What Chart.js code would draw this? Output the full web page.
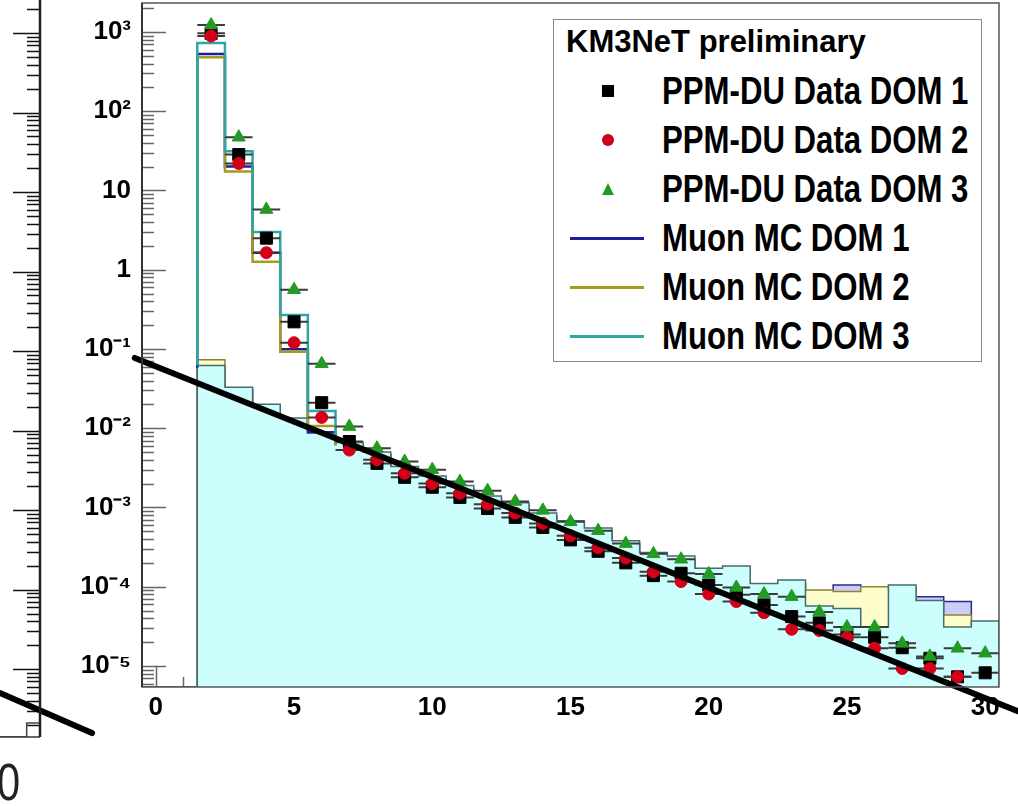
<!DOCTYPE html>
<html>
<head>
<meta charset="utf-8">
<script src="https://cdn.jsdelivr.net/npm/chart.js@4.4.1/dist/chart.umd.min.js"></script>
<style>
body{margin:0;background:#fff;}
#wrap{position:relative;width:1018px;height:806px;overflow:hidden;background:#fff;}
#main,#frag{position:absolute;left:0;top:0;}
#legend{position:absolute;left:553px;top:19px;width:427px;height:341px;border:1.5px solid #888;background:#fff;}
#legend div{position:absolute;}
.lg-head{font:bold 31px "Liberation Sans",Arial,sans-serif;left:12px;top:4px;white-space:nowrap;}
.lg-text{font:bold 38px "Liberation Sans",Arial,sans-serif;left:108px;white-space:nowrap;line-height:44px;transform:scaleX(0.82);transform-origin:0 50%;}
#fragLabel{position:absolute;left:-3px;top:756px;font:52px "Liberation Sans",sans-serif;line-height:1;color:#222;transform:scaleX(0.8);transform-origin:0 50%;}
</style>
</head>
<body>
<div id="wrap">
<canvas id="main" width="1018" height="806"></canvas>
<canvas id="frag" width="100" height="745"></canvas>
<div id="legend"></div>
<div id="fragLabel">0</div>
</div>
<script>
// bin centres 0..30, each bin 1 wide
const BINS = [0,1,2,3,4,5,6,7,8,9,10,11,12,13,14,15,16,17,18,19,20,21,22,23,24,25,26,27,28,29,30];
const BIN_HALF = 0.5;

// PPM-DU data, per DOM
const DATA_DOM1 = [null,null,960,28.4,2.5,0.22,0.021,0.0068,0.0036,0.0024,0.0018,0.00134,0.00097,0.00075,0.00056,0.00039,0.00028,0.00020,0.000138,0.000148,0.000105,7.9e-5,5.9e-5,4.2e-5,3.5e-5,2.5e-5,2.3e-5,1.7e-5,1.25e-5,7.3e-6,8.2e-6];
const DATA_DOM2 = [null,null,890,21.9,1.64,0.12,0.0137,0.0053,0.0040,0.0027,0.0020,0.00151,0.0011,0.00085,0.00063,0.00044,0.00031,0.00023,0.000155,0.000116,8.1e-5,6.5e-5,4.7e-5,2.9e-5,2.8e-5,2.3e-5,1.67e-5,9.3e-6,9.3e-6,7.3e-6,null];
const DATA_DOM3 = [null,null,1225,47,5.75,0.56,0.065,0.0105,0.0056,0.0038,0.0030,0.00212,0.00163,0.00119,0.00092,0.00066,0.00051,0.00035,0.00026,0.000222,0.000145,9.8e-5,8.1e-5,7.5e-5,4.8e-5,3.1e-5,3.1e-5,1.93e-5,1.32e-5,1.67e-5,1.45e-5];

// muon MC, filled part (0 = empty bin)
const FILL_DOM1 = [0,0,0.058,0.031,0.019,0.0125,0.0082,0.0062,0.0046,0.0031,0.0023,0.0017,0.0013,0.00105,0.00078,0.00063,0.00050,0.00035,0.00025,0.00022,0.00016,0.00017,0.0001,0.00011,8.0e-5,1.05e-4,9.0e-5,9.5e-5,7.5e-5,6.5e-5,3.4e-5];
const FILL_DOM2 = [0,0,0.073,0.030,0.018,0.012,0.0080,0.0060,0.0045,0.0030,0.0023,0.0017,0.0013,0.00104,0.00077,0.00062,0.00050,0.00034,0.00025,0.00022,0.000155,0.000165,0.0001,0.00011,9.1e-5,8.7e-5,1.0e-4,9.5e-5,6.0e-5,4.4e-5,3.3e-5];
const FILL_DOM3 = [0,0,0.062,0.033,0.020,0.0135,0.0088,0.0066,0.0050,0.0033,0.0025,0.0019,0.0014,0.00115,0.00085,0.00068,0.00055,0.00038,0.00027,0.000244,0.000171,0.000183,0.00011,0.000122,5.7e-5,5.3e-5,3.1e-5,0.000105,6.7e-5,3.1e-5,3.7e-5];

// muon MC totals in the first bins
const TOT_BINS = [2,3,4,5,6];
const TOT_DOM1 = [528,20,1.64,0.099,0.0089];
const TOT_DOM2 = [480,17.4,1.26,0.092,0.0107];
const TOT_DOM3 = [727,31.3,3.0,0.268,0.0165];

// straight fit line (two ends)
const FIT_X = [-0.76,32];
const FIT_Y = [0.077,2.07e-6];

const X_TICKS = [0,5,10,15,20,25,30];
const Y_TICKS = [1e-5,1e-4,1e-3,1e-2,1e-1,1,10,100,1000];
const Y_TICK_LABELS = ['10\u207B\u2075','10\u207B\u2074','10\u207B\u00B3','10\u207B\u00B2','10\u207B\u00B9','1','10','10\u00B2','10\u00B3'];
const Y_MIN = 5.43e-6, Y_MAX = 2320;

const DATA_LABELS = ['PPM-DU Data DOM 1','PPM-DU Data DOM 2','PPM-DU Data DOM 3'];
const MC_LABELS = ['Muon MC DOM 1','Muon MC DOM 2','Muon MC DOM 3'];
const LEGEND_HEADER = 'KM3NeT preliminary';

// left panel piece (other plot, cut off)
const FRAG_BIN_LO = [29.0,30.0];
const FRAG_VALS = [0,2.1e-6];
const FRAG_FIT_X = [29.0,32.45];
const FRAG_FIT_Y = [5.0e-6,1.57e-6];
const FRAG_Y_MIN = 1.4e-6, FRAG_Y_MAX = 2600;

const FONT_N = '"Liberation Sans",Arial,sans-serif';
const C_DATA = ['#000000','#d3001a','#229b22'];
const C_LINE = ['#1b1f9c','#a59c1e','#2fa6a6'];
const C_FILL = ['#ccccfa','#fefdcc','#ccfefe'];
const C_EDGE = ['#2a2a8a','#8a8433','#466c6c'];

function clampY(v, lo){ return v > 0 ? v : lo; }

function histPoints(vals){
    let pts = [{x: BINS[0]-BIN_HALF, y: clampY(vals[0], Y_MIN)}];
    BINS.forEach((b,i) => pts.push({x: b-BIN_HALF, y: clampY(vals[i], Y_MIN)}));
    let last = BINS.length-1;
    pts.push({x: BINS[last]+BIN_HALF, y: clampY(vals[last], Y_MIN)});
    pts.push({x: BINS[last]+BIN_HALF, y: Y_MIN});
    return pts;
}

function totPoints(tot, fill){
    let first = BINS.indexOf(TOT_BINS[0]);
    let next = BINS.indexOf(TOT_BINS[TOT_BINS.length-1]) + 1;
    let pts = [{x: TOT_BINS[0]-BIN_HALF, y: fill[first]}];
    TOT_BINS.forEach((b,i) => pts.push({x: b-BIN_HALF, y: tot[i]}));
    pts.push({x: BINS[next]-BIN_HALF, y: tot[tot.length-1]});
    pts.push({x: BINS[next]-BIN_HALF, y: fill[next]});
    return pts;
}

function markerPoints(vals){
    return BINS.map((b,i) => ({x: b, y: vals[i]})).filter(p => p.y != null);
}

function errPoints(vals){
    let pts = [];
    BINS.forEach((b,i) => {
        if(vals[i] == null) return;
        pts.push({x: b-BIN_HALF, y: vals[i]}, {x: b+BIN_HALF, y: vals[i]}, {x: b, y: null});
    });
    return pts;
}

// ROOT style ticks (inside the frame) and the frame
const rootFrame = {
    id: 'rootFrame',
    beforeDatasetsDraw(chart, args, o){
        const ctx = chart.ctx, a = chart.chartArea, y = chart.scales.y, x = chart.scales.x;
        ctx.save();
        ctx.strokeStyle = o.tickColor;
        ctx.lineWidth = 1.5;
        ctx.beginPath();
        for(let d=-7; d<=4; d++){
            for(let m=1; m<=9; m++){
                let v = m*Math.pow(10,d);
                if(v < y.min || v > y.max) continue;
                let py = Math.round(y.getPixelForValue(v)) + 0.5;
                let len = m == 1 ? o.yMajor : o.yMinor;
                if(o.side == 'right'){ ctx.moveTo(a.right, py); ctx.lineTo(a.right-len, py); }
                else { ctx.moveTo(a.left, py); ctx.lineTo(a.left+len, py); }
            }
        }
        if(o.xTicks){
            BINS.forEach(b => {
                let px = Math.round(x.getPixelForValue(b)) + 0.5;
                let len = X_TICKS.includes(b) ? o.xMajor : o.xMinor;
                ctx.moveTo(px, a.bottom); ctx.lineTo(px, a.bottom-len);
            });
        }
        ctx.stroke();
        ctx.restore();
    },
    afterDatasetsDraw(chart, args, o){
        const ctx = chart.ctx, a = chart.chartArea;
        ctx.save();
        ctx.strokeStyle = o.frameColor;
        ctx.lineWidth = 1.5;
        if(o.side == 'right'){
            ctx.beginPath();
            ctx.moveTo(a.left, a.bottom); ctx.lineTo(a.right, a.bottom);
            ctx.stroke();
            ctx.strokeStyle = '#222'; ctx.lineWidth = 2.5;
            ctx.beginPath(); ctx.moveTo(a.right, a.top); ctx.lineTo(a.right, a.bottom); ctx.stroke();
        } else {
            ctx.strokeRect(a.left, a.top, a.right-a.left, a.bottom-a.top);
            ctx.strokeStyle = '#333'; ctx.lineWidth = 2;
            ctx.beginPath(); ctx.moveTo(a.left, a.top); ctx.lineTo(a.left, a.bottom); ctx.stroke();
        }
        ctx.restore();
    }
};

let datasets = [];
// filled MC, DOM1 first so DOM3 ends on top
[FILL_DOM1, FILL_DOM2, FILL_DOM3].forEach((vals,i) => {
    datasets.push({
        data: histPoints(vals), showLine: true, stepped: 'before',
        fill: 'start', backgroundColor: C_FILL[i], borderColor: C_EDGE[i], borderWidth: 1.5,
        pointRadius: 0, order: 12-i
    });
});
[TOT_DOM1, TOT_DOM2, TOT_DOM3].forEach((tot,i) => {
    let fill = [FILL_DOM1, FILL_DOM2, FILL_DOM3][i];
    datasets.push({
        data: totPoints(tot, fill), showLine: true, stepped: 'before', fill: false,
        borderColor: C_LINE[i], borderWidth: 2.5, pointRadius: 0, order: 9-i
    });
});
const STYLES = ['rect','circle','triangle'];
const RADII = [8.5,6,7.5];
[DATA_DOM1, DATA_DOM2, DATA_DOM3].forEach((vals,i) => {
    datasets.push({
        data: errPoints(vals), showLine: true, spanGaps: false, fill: false,
        borderColor: '#3a3a3a', borderWidth: 2, pointRadius: 0, order: 6-2*i
    });
    datasets.push({
        data: markerPoints(vals), showLine: false,
        pointStyle: STYLES[i], pointRadius: RADII[i], pointBackgroundColor: C_DATA[i],
        pointBorderColor: C_DATA[i], pointBorderWidth: 1, order: 5-2*i
    });
});
datasets.push({
    data: FIT_X.map((v,i) => ({x: v, y: FIT_Y[i]})), showLine: true, fill: false,
    borderColor: '#000', borderWidth: 6, borderCapStyle: 'round', pointRadius: 0, clip: false, order: 0
});

const tickFont = {family: FONT_N, size: 26, weight: 'bold'};

new Chart(document.getElementById('main'), {
    type: 'scatter',
    data: {datasets: datasets},
    plugins: [rootFrame],
    options: {
        responsive: false, animation: false, events: [],
        layout: {autoPadding: false, padding: {left: 80, top: 3, right: 19, bottom: 79}},
        plugins: {
            legend: {display: false}, tooltip: {enabled: false},
            rootFrame: {tickColor: '#666', frameColor: '#555', yMajor: 24, yMinor: 12, xTicks: true, xMajor: 20, xMinor: 10}
        },
        scales: {
            x: {
                type: 'linear', min: BINS[0]-BIN_HALF, max: BINS[BINS.length-1]+BIN_HALF,
                grid: {display: false, drawTicks: false}, border: {display: false},
                afterBuildTicks: s => { s.ticks = X_TICKS.map(v => ({value: v})); },
                afterFit: s => { s.height = 40; s.paddingLeft = 0; s.paddingRight = 0; },
                ticks: {padding: 5, color: '#000', font: tickFont, maxRotation: 0, autoSkip: false, callback: v => String(v)}
            },
            y: {
                type: 'logarithmic', min: Y_MIN, max: Y_MAX,
                grid: {display: false, drawTicks: false}, border: {display: false},
                afterBuildTicks: s => { s.ticks = Y_TICKS.map(v => ({value: v})); },
                afterFit: s => { s.width = 62; s.paddingTop = 0; s.paddingBottom = 0; },
                ticks: {padding: 11, color: '#000', font: tickFont, autoSkip: false, callback: (v,i) => Y_TICK_LABELS[i]}
            }
        }
    }
});

// cut off piece of the neighbouring plot
let fragHist = [{x: FRAG_BIN_LO[0], y: clampY(FRAG_VALS[0], FRAG_Y_MIN)}];
FRAG_BIN_LO.forEach((b,i) => fragHist.push({x: b, y: clampY(FRAG_VALS[i], FRAG_Y_MIN)}));
fragHist.push({x: FRAG_BIN_LO[FRAG_BIN_LO.length-1]+BIN_HALF, y: FRAG_VALS[FRAG_VALS.length-1]});

new Chart(document.getElementById('frag'), {
    type: 'scatter',
    data: {datasets: [
        {data: FRAG_FIT_X.map((v,i) => ({x: v, y: FRAG_FIT_Y[i]})), showLine: true, borderColor: '#000',
         borderWidth: 6, borderCapStyle: 'round', pointRadius: 0, clip: false, order: 0},
        {data: fragHist, showLine: true, stepped: 'before', borderColor: '#444', borderWidth: 1.5, pointRadius: 0, order: 1}
    ]},
    plugins: [rootFrame],
    options: {
        responsive: false, animation: false, events: [],
        layout: {autoPadding: false, padding: {left: 0, top: 0, right: 60, bottom: 8}},
        plugins: {
            legend: {display: false}, tooltip: {enabled: false},
            rootFrame: {tickColor: '#111', frameColor: '#333', side: 'right', yMajor: 27, yMinor: 13, xTicks: false}
        },
        scales: {
            x: {type: 'linear', display: false, min: FRAG_BIN_LO[0], max: FRAG_BIN_LO[FRAG_BIN_LO.length-1]+BIN_HALF},
            y: {type: 'logarithmic', display: false, min: FRAG_Y_MIN, max: FRAG_Y_MAX}
        }
    }
});

// legend box
const legend = document.getElementById('legend');
function addDiv(cls, css, text){
    let d = document.createElement('div');
    if(cls) d.className = cls;
    d.style.cssText = css;
    if(text) d.textContent = text;
    legend.appendChild(d);
    return d;
}
addDiv('lg-head', '', LEGEND_HEADER);
const ROW0 = 71, ROW_STEP = 49, MARK_X = 54;
DATA_LABELS.forEach((lab,i) => {
    let cy = ROW0 + i*ROW_STEP;
    if(i == 0) addDiv('', `left:${MARK_X-6}px;top:${cy-6}px;width:12px;height:12px;background:${C_DATA[i]}`);
    if(i == 1) addDiv('', `left:${MARK_X-6}px;top:${cy-6}px;width:12px;height:12px;border-radius:50%;background:${C_DATA[i]}`);
    if(i == 2) addDiv('', `left:${MARK_X-6}px;top:${cy-6}px;width:0;height:0;border-left:6px solid transparent;border-right:6px solid transparent;border-bottom:12px solid ${C_DATA[i]}`);
    addDiv('lg-text', `top:${cy-22}px`, lab);
});
MC_LABELS.forEach((lab,i) => {
    let cy = ROW0 + (i+3)*ROW_STEP;
    addDiv('', `left:16px;top:${cy-1}px;width:74px;height:2.5px;background:${C_LINE[i]}`);
    addDiv('lg-text', `top:${cy-22}px`, lab);
});
</script>
</body>
</html>
